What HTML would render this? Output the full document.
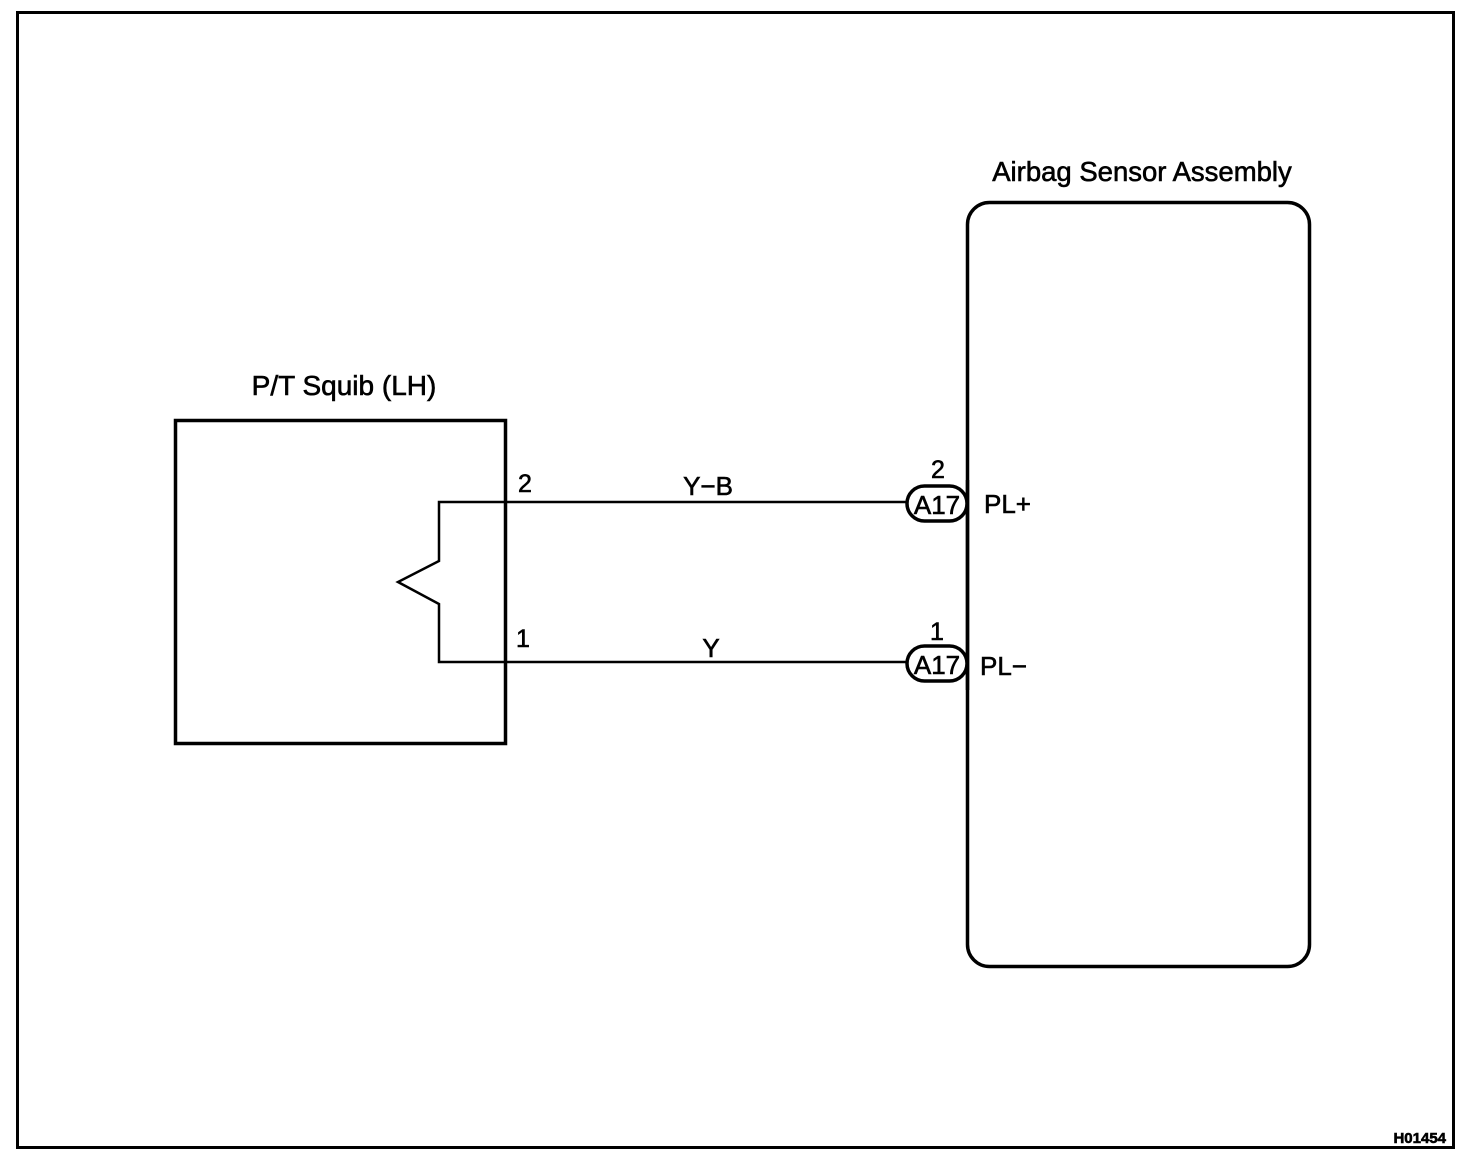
<!DOCTYPE html>
<html><head><meta charset="utf-8"><style>
html,body{margin:0;padding:0;background:#fff;}
svg{display:block;}
text{font-family:"Liberation Sans",Arial,sans-serif;fill:#000;stroke:#000;stroke-width:0.6;}
</style></head><body>
<svg width="1472" height="1176" viewBox="0 0 1472 1176" xmlns="http://www.w3.org/2000/svg">
<rect x="17.5" y="12.5" width="1436" height="1135" fill="none" stroke="#000" stroke-width="3"/>
<text x="1142" y="181" font-size="27.5" text-anchor="middle">Airbag Sensor Assembly</text>
<rect x="967.5" y="202.5" width="342" height="764" rx="22" fill="none" stroke="#000" stroke-width="3.5"/>
<text x="344" y="395" font-size="28" text-anchor="middle">P/T Squib (LH)</text>
<rect x="175.5" y="420.5" width="330" height="323" fill="none" stroke="#000" stroke-width="3.5"/>
<polyline points="907,502 439,502 439,561 398,582 439,604 439,662 907,662" fill="none" stroke="#000" stroke-width="2.5"/>
<text x="525" y="492" font-size="25" text-anchor="middle">2</text>
<text x="523" y="647" font-size="25" text-anchor="middle">1</text>
<text x="708" y="495" font-size="26" text-anchor="middle">Y−B</text>
<text x="711" y="657" font-size="26" text-anchor="middle">Y</text>
<rect x="907" y="486" width="60" height="35" rx="17.5" fill="#fff" stroke="#000" stroke-width="3.5"/>
<text x="937" y="514" font-size="26" text-anchor="middle">A17</text>
<rect x="907" y="646" width="60" height="35" rx="17.5" fill="#fff" stroke="#000" stroke-width="3.5"/>
<text x="937" y="674" font-size="26" text-anchor="middle">A17</text>
<line x1="967.5" y1="480" x2="967.5" y2="690" stroke="#000" stroke-width="3.5"/>
<text x="938" y="478" font-size="25" text-anchor="middle">2</text>
<text x="937" y="640" font-size="25" text-anchor="middle">1</text>
<text x="984" y="513" font-size="26">PL+</text>
<text x="980" y="675" font-size="26">PL−</text>
<text x="1446" y="1143" font-size="15" text-anchor="end" font-weight="bold">H01454</text>
</svg>
</body></html>
